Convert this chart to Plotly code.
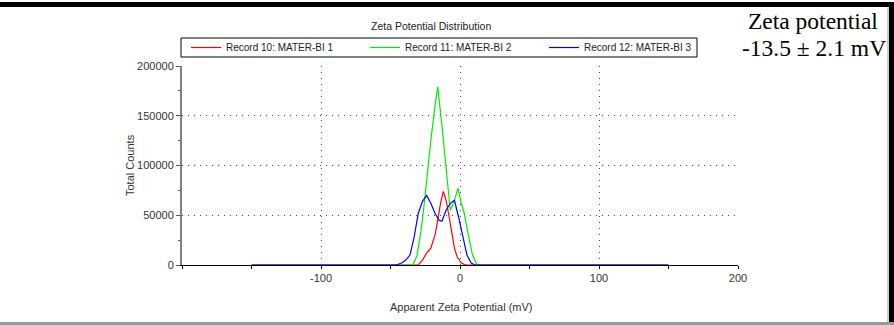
import plotly.graph_objects as go

# ---- data ----
red_x = [-150, -33, -30, -27, -24, -21, -18, -16, -14, -12, -10, -8, -6, -4, -2, 1, 4, 150]
red_y = [0, 0, 0, 5000, 12000, 17000, 30000, 45000, 62000, 74000, 65000, 50000, 32000, 17000, 8000, 2000, 0, 0]

green_x = [-150, -37, -34, -31, -28, -26, -23.5, -21, -18, -16, -13, -10, -7, -4, -1.5, 1, 3, 6, 9, 12, 14, 150]
green_y = [0, 0, 0, 9000, 35000, 58000, 95000, 125000, 160000, 179000, 140000, 95000, 55000, 65000, 77000, 62000, 52000, 30000, 10000, 1000, 0, 0]

blue_x = [-150, -46, -42, -39, -36, -33, -30, -27, -24, -21, -18, -15, -13, -10, -7, -4, -1, 2, 5, 8, 11, 150]
blue_y = [0, 0, 2000, 5000, 10000, 28000, 52000, 64000, 70000, 62000, 52000, 45000, 44000, 55000, 62000, 65000, 48000, 28000, 10000, 2000, 0, 0]

series_names = ["Record 10: MATER-BI 1", "Record 11: MATER-BI 2", "Record 12: MATER-BI 3"]
series_colors = ["#ff0000", "#00ee00", "#0000ff"]

x_tickvals = [-100, 0, 100, 200]
x_ticktext = ["-100", "0", "100", "200"]
y_tickvals = [0, 50000, 100000, 150000, 200000]
y_ticktext = ["0", "50000", "100000", "150000", "200000"]

FONT = "Liberation Sans, Arial, sans-serif"
SERIF = "Liberation Serif, Times New Roman, serif"

fig = go.Figure()
for xs, ys, name, col in zip([red_x, green_x, blue_x], [red_y, green_y, blue_y], series_names, series_colors):
    fig.add_trace(go.Scatter(x=xs, y=ys, mode="lines", name=name,
                             line=dict(color=col, width=1.2)))

# plot area in pixels: x 182..738, y 66..265
L, R, T, B = 182, 738, 66, 265
W, H = 894, 325
def px(x):
    return (x - L) / (R - L)
def py(y):
    return (B - y) / (B - T)

GRID = "#444444"

fig.update_layout(
    width=W, height=H,
    margin=dict(l=L, r=W - R, t=T, b=H - B),
    paper_bgcolor="white", plot_bgcolor="white",
    font=dict(family=FONT, size=11, color="#333333"),
    showlegend=True,
    legend=dict(orientation="h", x=px(186), y=py(47.5), xanchor="left", yanchor="middle",
                borderwidth=0, bgcolor="rgba(0,0,0,0)",
                font=dict(family=FONT, size=10, color="#222222"),
                tracegroupgap=0, itemwidth=30,
                entrywidth=134, entrywidthmode="pixels"),
    xaxis=dict(range=[-200, 200], tickvals=x_tickvals, ticktext=x_ticktext,
               showgrid=True, gridcolor=GRID, griddash="1px,5px", gridwidth=1,
               zeroline=False, showline=True, linecolor="black", linewidth=1,
               ticks="outside", ticklen=3, tickcolor="black",
               minor=dict(dtick=50, tick0=0, ticks="outside", ticklen=3, tickcolor="black", showgrid=False),
               tickfont=dict(family=FONT, size=11, color="#333333")),
    yaxis=dict(range=[0, 200000], tickvals=y_tickvals, ticktext=y_ticktext,
               showgrid=True, gridcolor=GRID, griddash="1px,5px", gridwidth=1,
               zeroline=False, showline=True, linecolor="#808080", linewidth=2,
               ticks="outside", ticklen=4, tickcolor="#555555",
               minor=dict(dtick=25000, tick0=0, ticks="outside", ticklen=2, tickcolor="#555555", showgrid=False),
               tickfont=dict(family=FONT, size=11, color="#333333")),
    annotations=[
        dict(text="Zeta Potential Distribution", x=px(431), y=py(26), xref="paper", yref="paper",
             showarrow=False, xanchor="center", yanchor="middle",
             font=dict(family=FONT, size=10.5, color="#222222")),
        dict(text="Total Counts", x=px(130), y=py(165), xref="paper", yref="paper",
             showarrow=False, xanchor="center", yanchor="middle", textangle=-90,
             font=dict(family=FONT, size=11, color="#333333")),
        dict(text="Apparent Zeta Potential (mV)", x=px(461), y=py(307), xref="paper", yref="paper",
             showarrow=False, xanchor="center", yanchor="middle",
             font=dict(family=FONT, size=11, color="#333333")),
        dict(text="Zeta potential", x=px(813), y=py(21), xref="paper", yref="paper",
             showarrow=False, xanchor="center", yanchor="middle",
             font=dict(family=SERIF, size=23.5, color="black")),
        dict(text="-13.5 ± 2.1 mV", x=px(814), y=py(48), xref="paper", yref="paper",
             showarrow=False, xanchor="center", yanchor="middle",
             font=dict(family=SERIF, size=23.5, color="black")),
    ],
    shapes=[
        # legend frame
        dict(type="rect", xref="paper", yref="paper", x0=px(181), x1=px(697), y0=py(57), y1=py(38),
             fillcolor="rgba(0,0,0,0)", line=dict(color="black", width=1), layer="above"),
        # black frame bands of the original screenshot
        dict(type="rect", xref="paper", yref="paper", x0=px(0), x1=px(894), y0=py(7), y1=py(2),
             fillcolor="black", line=dict(width=0), layer="above"),
        dict(type="rect", xref="paper", yref="paper", x0=px(889), x1=px(894), y0=py(325), y1=py(2),
             fillcolor="black", line=dict(width=0), layer="above"),
        dict(type="line", xref="paper", yref="paper", x0=px(888), x1=px(888), y0=py(325), y1=py(7),
             line=dict(color="#999999", width=1), layer="above"),
        dict(type="rect", xref="paper", yref="paper", x0=px(0), x1=px(894), y0=py(325), y1=py(322),
             fillcolor="#999999", line=dict(width=0), layer="above"),
    ],
)

fig.write_html("out.html", config={"displayModeBar": False},
               post_script="document.body.style.margin='0';document.body.style.overflow='hidden';")
